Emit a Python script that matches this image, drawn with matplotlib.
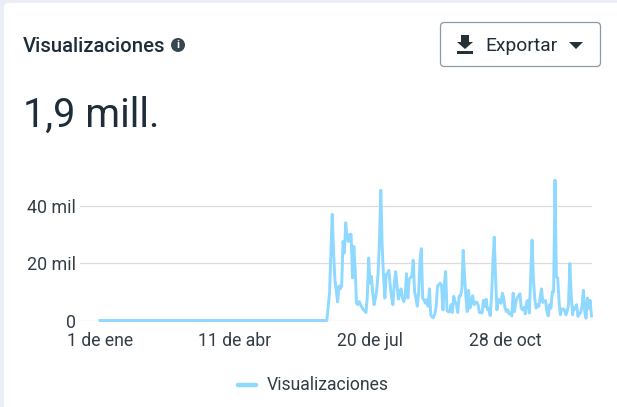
import matplotlib
matplotlib.use("Agg")
import matplotlib.pyplot as plt
from matplotlib.patches import FancyBboxPatch, Circle, Polygon, Rectangle

plt.rcParams['font.family'] = ['Roboto', 'DejaVu Sans']

# daily values, in thousands (day 0 = 1 de ene)
flat_days = [0] * 168
views = [0, 4.9, 9.5, 23, 36.9, 24, 14, 10.5, 6.5, 12, 11, 12, 27.5, 23.5, 34, 28.7, 27.5, 30, 30, 14.8,
         25.8, 17.7, 6, 5.5, 6.6, 5.5, 4.6, 3.7, 3.5, 2.8, 8.4, 21.7, 13, 15.3, 9.5, 5.5, 7.8, 10.7, 16.5, 28,
         45.3, 25.8, 15.3, 7.8, 16, 16.5, 17.4, 12, 7.8, 5.5, 13, 17, 12, 7.4, 9.5, 11, 7.8, 6.6, 8.4, 16.3,
         7.8, 14.2, 15, 15.3, 21, 10, 7.8, 5, 9.5, 21, 25, 7.8, 7.2, 6, 7.2, 4.9, 11, 2, 1.2, 1,
         2.3, 4.9, 12, 12.5, 13, 12, 3.7, 12.5, 17, 3.5, 3, 3, 5.5, 2.8, 8.4, 6.6, 5.5, 2.8, 8.4, 8.6,
         10.7, 24.4, 15.3, 8.4, 3.1, 10.5, 4.3, 6.6, 8.6, 5.5, 6.3, 6.4, 5.5, 2.8, 2.8, 2.6, 7, 4.9, 7.4, 3.7,
         4, 1.7, 8.4, 20, 29, 14.2, 3.7, 7.4, 6.6, 6, 9.5, 7.8, 4.3, 3.1, 3.7, 2.3, 2.6, 1.6, 9.5, 3.1,
         6.6, 7.8, 8.6, 9.3, 4.3, 3.7, 4.6, 2.3, 6.6, 7, 2.6, 15.3, 28, 14.2, 7.8, 4.3, 5.5, 4.9, 7.8, 11,
         6.3, 6.6, 7, 3.1, 1.6, 5.5, 4.3, 10, 10, 48.8, 15.3, 14.8, 6.6, 2, 4, 4, 3.7, 2, 3.1, 5.5,
         19.8, 9, 2, 4.6, 4, 5.5, 1.4, 2.3, 2.8, 4.9, 10.5, 3.1, 0.8, 7.8, 4.3, 7, 1.6]
series = flat_days + views
days = list(range(len(series)))

x_ticks = [0, 100, 200, 300]
x_labels = ["1 de ene", "11 de abr", "20 de jul", "28 de oct"]
y_ticks = [0, 20, 40]
y_labels = ["0", "20 mil", "40 mil"]

W, H = 617, 407
ink = "#1f2d3a"
line_col = "#8fd8ff"

fig = plt.figure(figsize=(W / 100, H / 100), dpi=100, facecolor="#eceef6")

# card and header drawn in pixel coordinates
bg = fig.add_axes([0, 0, 1, 1])
bg.set_xlim(0, W)
bg.set_ylim(H, 0)
bg.axis("off")
bg.add_patch(FancyBboxPatch((4, 3), W + 40, H + 40, boxstyle="round,pad=0,rounding_size=5",
                            fc="white", ec="none"))
bg.text(23, 46, "Visualizaciones", fontsize=14.6, fontweight="medium", color=ink, va="center", ha="left")
bg.add_patch(Circle((178, 45), 7, fc="#37474f", ec="none"))
bg.text(178, 45.3, "i", fontsize=8, fontweight="bold", color="white", va="center", ha="center")
bg.text(23, 115, "1,9 mill.", fontsize=28.5, color=ink, va="center", ha="left")

# export button
bg.add_patch(FancyBboxPatch((440.5, 22.5), 160, 44, boxstyle="round,pad=0,rounding_size=4",
                            fc="white", ec="#8c9aa6", lw=0.9))
bg.add_patch(Polygon([(461, 35), (469, 35), (469, 42), (473, 42), (465, 49), (457, 42), (461, 42)],
                     fc="#263238", ec="none"))
bg.add_patch(Rectangle((457, 51), 16, 3, fc="#263238", ec="none"))
bg.text(485, 46, "Exportar", fontsize=13.9, color=ink, va="center", ha="left")
bg.add_patch(Polygon([(569, 42), (583, 42), (576, 49)], fc="#263238", ec="none"))

# chart, day 0 at x=100 and 1000 views = 2.875 px
ax = fig.add_axes([80 / W, 1 - 320.5 / H, 512 / W, 150.5 / H])
ax.patch.set_alpha(0)
ax.set_xlim(-14.8, 364.4)
ax.set_ylim(0, 52.35)
ax.plot(days, series, color=line_col, lw=2.1, solid_joinstyle="round", clip_on=False, zorder=3)
ax.set_yticks(y_ticks)
ax.set_yticklabels(y_labels, fontsize=12.9, color="#333d47")
ax.set_xticks(x_ticks)
ax.set_xticklabels(x_labels, fontsize=12.7, color="#333d47")
ax.tick_params(length=0, axis="both")
ax.tick_params(axis="y", pad=3)
ax.tick_params(axis="x", pad=8)
ax.grid(axis="y", color="#dcdcdc", lw=0.9)
ax.set_axisbelow(True)
for s in ax.spines.values():
    s.set_visible(False)

# legend
bg.plot([238, 256], [384.5, 384.5], color=line_col, lw=3.2, solid_capstyle="round")
bg.text(267, 385, "Visualizaciones", fontsize=12.7, color="#333d47", va="center", ha="left")

fig.savefig("out.png", dpi=100)
